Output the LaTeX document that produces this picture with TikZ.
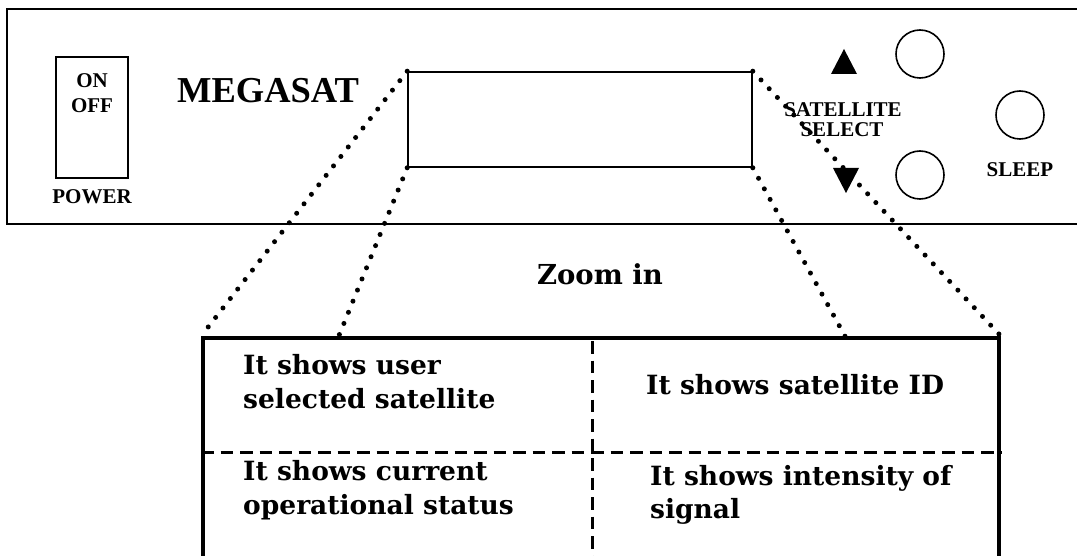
\documentclass[tikz,border=0pt]{standalone}
\usepackage{fontspec}
\setmainfont{Liberation Serif}
\newfontfamily\cellfont{DejaVu Serif}
\usetikzlibrary{calc}
\begin{document}
\begin{tikzpicture}[x=1pt,y=-1pt,
  frame/.style={draw, line width=1.6pt, inner sep=0pt},
  lbl/.style={font=\fontsize{21}{21}\selectfont\bfseries, inner sep=0pt, anchor=base},
  knob/.style={draw, circle, line width=1.6pt, minimum size=48pt, inner sep=0pt},
  arrowmark/.style={fill=black},
  dots/.style={line width=5pt, line cap=round, dash pattern=on 0pt off 12pt},
  divider/.style={line width=3pt, dash pattern=on 12.5pt off 7pt},
  cell/.style={font=\cellfont\fontsize{26.5}{26.5}\selectfont\bfseries, inner sep=0pt, anchor=base west}]
\clip (0,0) rectangle (1077,556);
\fill[white] (0,0) rectangle (1077,556);

% front panel of the receiver
\node[frame, minimum width=1074pt, minimum height=215pt] (panel) at (544,116.5) {};

% power switch
\node[frame, minimum width=72pt, minimum height=121pt] (switch) at (92,117.5) {};
\node[lbl] (on) at (92,88) {ON};
\node[lbl] (off) at (92,113) {OFF};
\node[lbl] (power) at (92,204) {POWER};

% brand name
\node[font=\fontsize{36.5}{36.5}\selectfont\bfseries, inner sep=0pt, anchor=base] (brand) at (268,103) {MEGASAT};

% display window
\node[frame, minimum width=344pt, minimum height=95pt] (disp) at (580,119.5) {};

% satellite select and sleep buttons
\fill[arrowmark] (831,74) -- (857,74) -- (844,49) -- cycle;
\fill[arrowmark] (833,168) -- (859,168) -- (846,193) -- cycle;
\node[knob] (up) at (920,54) {};
\node[knob] (down) at (920,175) {};
\node[knob] (sleep) at (1020,115) {};
\node[lbl] (sat1) at (843,117) {SATELLITE};
\node[lbl] (sat2) at (842,137) {SELECT};
\node[lbl] (sleeplbl) at (1020,177) {SLEEP};

% enlarged view of the display
\node[draw, line width=3.8pt, minimum width=796pt, minimum height=300pt, inner sep=0pt] (zoom) at (601,488) {};
\coordinate (zl) at (338,338);
\coordinate (zr) at (846,338);
\draw[divider] (592,341) -- (592,556);
\draw[divider] (zoom.west |- 0,452) -- (zoom.east |- 0,452);

% dotted projection lines
\draw[dots] (disp.north west) -- (zoom.north west);
\draw[dots] (disp.south west) -- (zl);
\draw[dots] (disp.south east) -- (zr);
\draw[dots] (disp.north east) -- (zoom.north east);

\node[cell, font=\cellfont\fontsize{27.5}{27.5}\selectfont\bfseries, anchor=base] (zoomlbl) at (600,285) {Zoom in};

% cell texts
\node[cell] (c1a) at (243,374) {It shows user};
\node[cell] (c1b) at (243,408) {selected satellite};
\node[cell] (c2) at (646,394) {It shows satellite ID};
\node[cell] (c3a) at (243,480) {It shows current};
\node[cell] (c3b) at (243,514) {operational status};
\node[cell] (c4a) at (650,485) {It shows intensity of};
\node[cell] (c4b) at (650,518) {signal};
\end{tikzpicture}
\end{document}
